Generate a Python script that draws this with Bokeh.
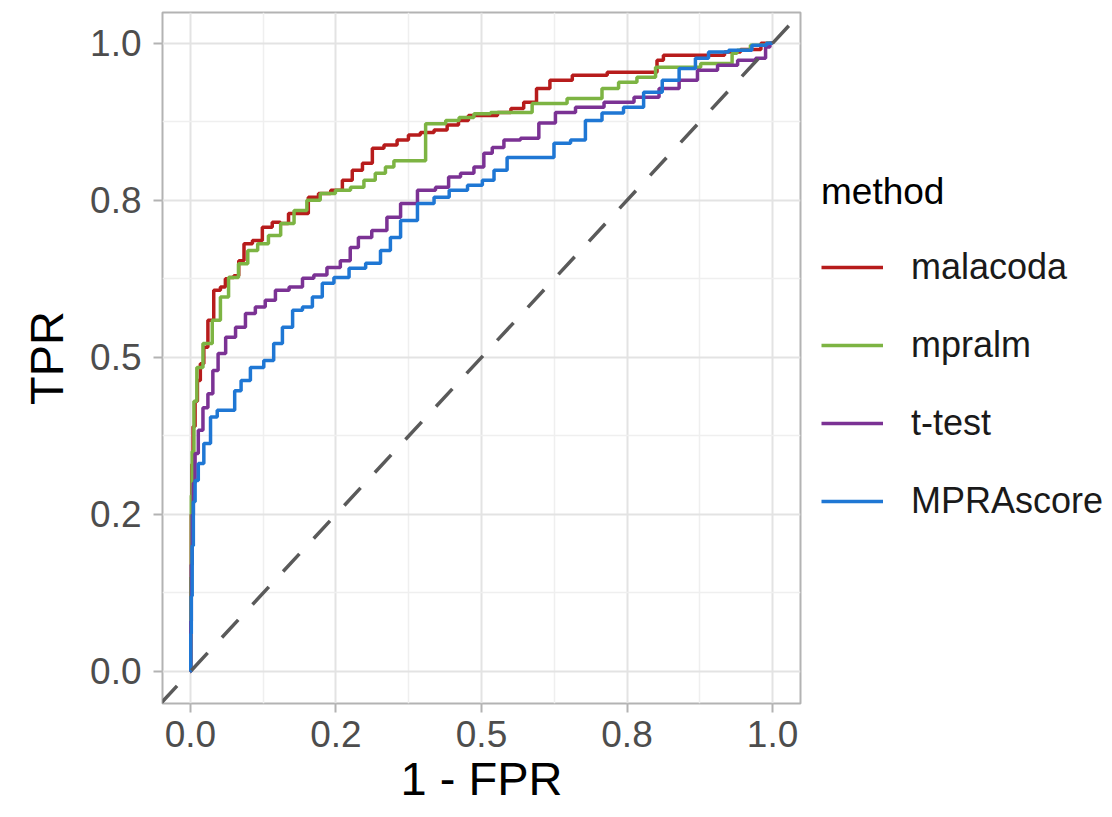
from bokeh.plotting import figure
from bokeh.models import Range1d, FixedTicker, Legend, LegendItem, Slope
from bokeh.embed import file_html
from bokeh.resources import INLINE

# ---- data ----
methods = ["malacoda", "mpralm", "t-test", "MPRAscore"]
colors = ["#B71C1C", "#7DB443", "#7B3294", "#1F77D4"]

malacoda_x = [0, 0.001, 0.002, 0.003, 0.006, 0.010, 0.014, 0.020, 0.026, 0.034, 0.046, 0.057, 0.063, 0.069, 0.080, 0.086, 0.098, 0.115, 0.132, 0.149, 0.160, 0.177, 0.194, 0.211, 0.229, 0.253, 0.269, 0.287, 0.304, 0.321, 0.344, 0.366, 0.383, 0.407, 0.430, 0.452, 0.469, 0.486, 0.515, 0.540, 0.561, 0.584, 0.605, 0.630, 0.682, 0.750, 0.799, 0.804, 0.821, 0.905, 0.930, 0.960, 1.0]
malacoda_y = [0, 0.12, 0.25, 0.33, 0.39, 0.43, 0.463, 0.49, 0.516, 0.559, 0.607, 0.612, 0.625, 0.627, 0.630, 0.654, 0.681, 0.686, 0.707, 0.715, 0.713, 0.729, 0.729, 0.755, 0.761, 0.766, 0.782, 0.798, 0.809, 0.833, 0.838, 0.846, 0.854, 0.858, 0.862, 0.870, 0.877, 0.885, 0.885, 0.890, 0.896, 0.906, 0.928, 0.941, 0.949, 0.954, 0.954, 0.973, 0.981, 0.981, 0.986, 0.990, 1.0]

mpralm_x = [0, 0.001, 0.002, 0.004, 0.008, 0.014, 0.029, 0.046, 0.057, 0.074, 0.091, 0.106, 0.125, 0.143, 0.167, 0.189, 0.211, 0.235, 0.263, 0.287, 0.309, 0.326, 0.344, 0.355, 0.404, 0.404, 0.430, 0.447, 0.476, 0.498, 0.533, 0.584, 0.590, 0.704, 0.710, 0.761, 0.773, 0.825, 0.928, 0.933, 0.945, 0.979, 1.0]
mpralm_y = [0, 0.15, 0.28, 0.35, 0.43, 0.484, 0.522, 0.559, 0.596, 0.627, 0.649, 0.670, 0.681, 0.694, 0.713, 0.734, 0.750, 0.761, 0.766, 0.771, 0.782, 0.793, 0.803, 0.813, 0.813, 0.872, 0.872, 0.877, 0.882, 0.888, 0.890, 0.890, 0.904, 0.912, 0.928, 0.938, 0.946, 0.962, 0.968, 0.984, 0.989, 0.997, 1.0]

ttest_x = [0, 0.001, 0.002, 0.004, 0.006, 0.010, 0.017, 0.026, 0.034, 0.043, 0.052, 0.069, 0.086, 0.103, 0.120, 0.137, 0.155, 0.184, 0.201, 0.223, 0.246, 0.269, 0.280, 0.297, 0.326, 0.349, 0.373, 0.407, 0.435, 0.452, 0.476, 0.498, 0.510, 0.527, 0.550, 0.584, 0.613, 0.641, 0.682, 0.739, 0.785, 0.825, 0.854, 0.888, 0.923, 0.957, 0.985, 0.991, 1.0]
ttest_y = [0, 0.08, 0.17, 0.25, 0.30, 0.347, 0.384, 0.42, 0.442, 0.479, 0.506, 0.532, 0.548, 0.570, 0.580, 0.591, 0.607, 0.612, 0.626, 0.631, 0.643, 0.654, 0.675, 0.691, 0.702, 0.723, 0.745, 0.766, 0.771, 0.787, 0.793, 0.803, 0.825, 0.834, 0.846, 0.849, 0.873, 0.890, 0.898, 0.906, 0.914, 0.928, 0.941, 0.957, 0.965, 0.973, 0.976, 0.994, 1.0]

mprascore_x = [0, 0.001, 0.002, 0.004, 0.006, 0.010, 0.017, 0.029, 0.040, 0.052, 0.069, 0.083, 0.091, 0.115, 0.137, 0.149, 0.167, 0.184, 0.201, 0.218, 0.235, 0.258, 0.287, 0.315, 0.338, 0.349, 0.373, 0.407, 0.430, 0.459, 0.493, 0.510, 0.533, 0.555, 0.613, 0.636, 0.670, 0.687, 0.727, 0.761, 0.796, 0.825, 0.854, 0.881, 0.899, 0.950, 0.979, 1.0]
mprascore_y = [0, 0.06, 0.12, 0.20, 0.27, 0.304, 0.331, 0.363, 0.405, 0.416, 0.416, 0.447, 0.463, 0.484, 0.495, 0.522, 0.548, 0.575, 0.580, 0.596, 0.618, 0.627, 0.642, 0.650, 0.670, 0.691, 0.718, 0.745, 0.755, 0.766, 0.774, 0.782, 0.798, 0.818, 0.818, 0.841, 0.846, 0.877, 0.889, 0.898, 0.922, 0.941, 0.960, 0.976, 0.986, 0.989, 0.997, 1.0]

tick_values = [0, 0.25, 0.5, 0.75, 1.0]
tick_labels = ["0.0", "0.2", "0.5", "0.8", "1.0"]
minor_values = [-0.125, 0.125, 0.375, 0.625, 0.875, 1.125]

series_x = [malacoda_x, mpralm_x, ttest_x, mprascore_x]
series_y = [malacoda_y, mpralm_y, ttest_y, mprascore_y]

FONT = "Liberation Sans"

p = figure(frame_width=638, frame_height=691,
           x_range=Range1d(-0.048, 1.048), y_range=Range1d(-0.051, 1.049),
           output_backend="svg", toolbar_location=None,
           min_border_left=162, min_border_top=12, min_border_bottom=94,
           min_border_right=10)
p.background_fill_color = "white"
p.border_fill_color = "white"
p.outline_line_color = "#B3B3B3"
p.outline_line_width = 2

overrides = {v: t for v, t in zip(tick_values, tick_labels)}
for ax in (p.xaxis[0], p.yaxis[0]):
    ax.ticker = FixedTicker(ticks=tick_values, minor_ticks=minor_values)
    ax.major_label_overrides = overrides
    ax.axis_line_color = None
    ax.major_tick_line_color = "#B3B3B3"
    ax.major_tick_line_width = 2
    ax.major_tick_out = 9
    ax.major_tick_in = 0
    ax.minor_tick_line_color = None
    ax.major_label_text_font = FONT
    ax.major_label_text_font_size = "37px"
    ax.major_label_text_color = "#4D4D4D"
    ax.axis_label_text_font = FONT
    ax.axis_label_text_font_size = "47px"
    ax.axis_label_text_font_style = "normal"
    ax.axis_label_text_color = "#000000"

p.xaxis.axis_label = "1 - FPR"
p.yaxis.axis_label = "TPR"
p.xaxis.major_label_standoff = 8
p.yaxis.major_label_standoff = 12
p.xaxis.axis_label_standoff = 2
p.yaxis.axis_label_standoff = 14

for g in (p.xgrid[0], p.ygrid[0]):
    g.ticker = FixedTicker(ticks=tick_values, minor_ticks=minor_values)
    g.grid_line_color = "#E3E3E3"
    g.grid_line_width = 2
    g.minor_grid_line_color = "#EFEFEF"
    g.minor_grid_line_width = 1.5

diag = Slope(gradient=1, y_intercept=0, line_color="#5A5A5A", line_width=3.5,
             line_dash="24 21")
p.add_layout(diag)

items = []
for name, col, xs, ys in zip(methods, colors, series_x, series_y):
    r = p.step(xs, ys, mode="center", line_color=col, line_width=3.5)
    items.append(LegendItem(label=name, renderers=[r]))

legend = Legend(items=items, title="method", location=(21, 181),
                title_text_font=FONT, title_text_font_size="37px",
                title_text_font_style="normal", title_text_color="#000000",
                label_text_font=FONT, label_text_font_size="36px",
                label_text_color="#1A1A1A",
                glyph_width=62, glyph_height=40, label_height=40,
                label_standoff=28, spacing=36, padding=0, margin=0,
                title_standoff=33, border_line_color=None,
                background_fill_alpha=0)
p.add_layout(legend, "right")

open("out.html", "w").write(file_html(p, INLINE))
